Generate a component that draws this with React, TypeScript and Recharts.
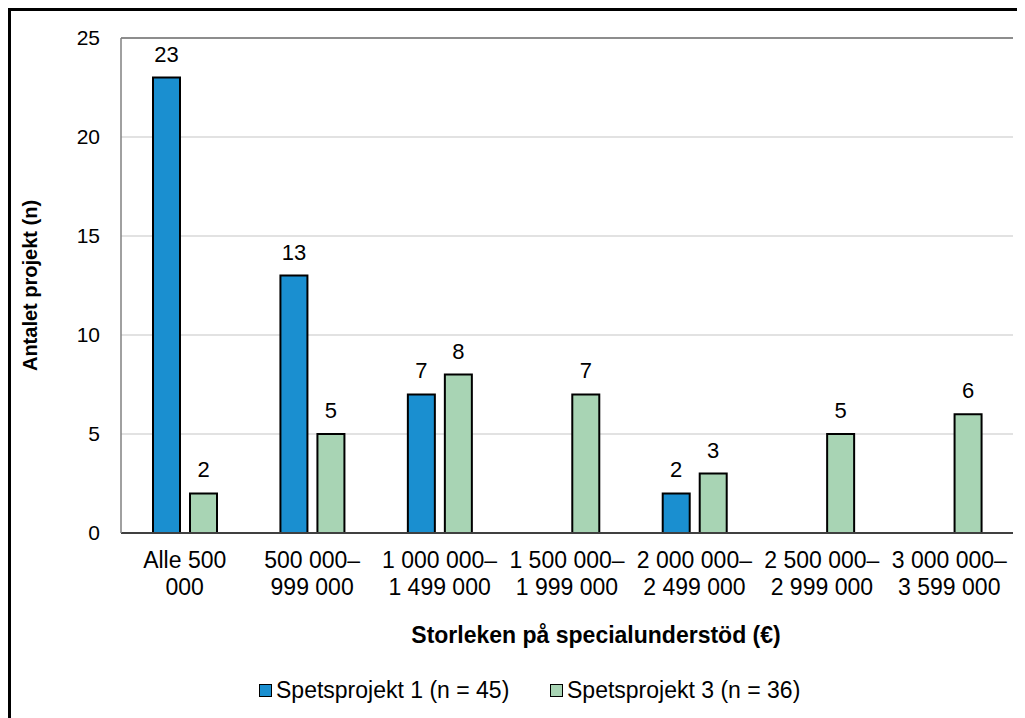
import React from "react";
import {
  BarChart,
  Bar,
  XAxis,
  YAxis,
  CartesianGrid,
  LabelList,
  Legend,
  ReferenceLine,
} from "recharts";

const categories = [
  ["Alle 500", "000"],
  ["500 000–", "999 000"],
  ["1 000 000–", "1 499 000"],
  ["1 500 000–", "1 999 000"],
  ["2 000 000–", "2 499 000"],
  ["2 500 000–", "2 999 000"],
  ["3 000 000–", "3 599 000"],
];
const spets1 = [23, 13, 7, null, 2, null, null];
const spets3 = [2, 5, 8, 7, 3, 5, 6];
const yTicks = [0, 5, 10, 15, 20, 25];

const seriesNames = ["Spetsprojekt 1 (n = 45)", "Spetsprojekt 3 (n = 36)"];
const BLUE = "#1a8fd0";
const GREEN = "#a8d4b4";
const FONT = "'Liberation Sans', Arial, sans-serif";

const data = categories.map((lines, i) => ({
  key: lines.join(" "),
  lines,
  s1: spets1[i],
  s3: spets3[i],
}));

function XTick(props: any) {
  const { x, y, payload } = props;
  const lines = categories[payload.index] || [];
  return (
    <g>
      {lines.map((l, i) => (
        <text
          key={i}
          x={x}
          y={y + 27 + i * 27}
          textAnchor="middle"
          fontSize={23}
          fill="#000"
          fontFamily={FONT}
        >
          {l}
        </text>
      ))}
    </g>
  );
}

function LegendContent() {
  const colors = [BLUE, GREEN];
  return (
    <div
      style={{
        display: "flex",
        alignItems: "center",
        height: 40,
        paddingLeft: 251,
        fontFamily: FONT,
        fontSize: 23,
        color: "#000",
      }}
    >
      {seriesNames.map((n, i) => (
        <div
          key={n}
          style={{ display: "flex", alignItems: "center", width: i === 0 ? 291 : "auto" }}
        >
          <span
            style={{
              display: "inline-block",
              width: 11,
              height: 11,
              background: colors[i],
              border: "1.5px solid #000",
              marginRight: 4,
            }}
          />
          <span>{n}</span>
        </div>
      ))}
    </div>
  );
}

const labelFmt = (v: any) => (v === null || v === undefined ? "" : v);

export default function App() {
  return (
    <div style={{ position: "relative", width: 1017, height: 710 }}>
      <div
        style={{
          position: "absolute",
          left: 0,
          top: 0,
          width: 1017,
          height: 710,
          borderTop: "3px solid #000",
          borderLeft: "3px solid #000",
          boxSizing: "border-box",
          pointerEvents: "none",
        }}
      />
      <BarChart
        width={1017}
        height={710}
        data={data}
        margin={{ top: 30, right: 12, bottom: 8, left: 50 }}
        barSize={27}
        barGap={10}
        style={{ position: "absolute", left: 0, top: 0 }}
      >
        <CartesianGrid horizontal vertical={false} stroke="#d9d9d9" strokeWidth={1.5} />
        <XAxis
          dataKey="key"
          interval={0}
          tickLine={false}
          axisLine={{ stroke: "#404040", strokeWidth: 2 }}
          height={137}
          tick={<XTick />}
          label={{
            content: () => (
              <text
                x={588}
                y={635}
                textAnchor="middle"
                fontSize={23}
                fontWeight="bold"
                fontFamily={FONT}
                fill="#000"
              >
                Storleken på specialunderstöd (€)
              </text>
            ),
          }}
        />
        <YAxis
          domain={[0, 25]}
          ticks={yTicks}
          width={63}
          tickLine={false}
          tickMargin={15}
          axisLine={{ stroke: "#808080", strokeWidth: 1.5 }}
          tick={{ fontSize: 21, fill: "#000", fontFamily: FONT }}
          label={{
            content: (p: any) => {
              const vb = p.viewBox || { y: 30, height: 495 };
              const cy = vb.y + vb.height / 2;
              return (
                <text
                  x={22}
                  y={cy}
                  transform={`rotate(-90, 22, ${cy})`}
                  textAnchor="middle"
                  dominantBaseline="central"
                  fontSize={20}
                  fontWeight="bold"
                  fontFamily={FONT}
                  fill="#000"
                >
                  Antalet projekt (n)
                </text>
              );
            },
          }}
        />
        <YAxis
          yAxisId="r"
          orientation="right"
          domain={[0, 25]}
          width={0}
          tick={false}
          tickLine={false}
          axisLine={{ stroke: "#000", strokeWidth: 2 }}
        />
        <ReferenceLine y={25} stroke="#707070" strokeWidth={1.5} />
        <Legend verticalAlign="bottom" wrapperStyle={{ left: 0, width: 1017 }} content={<LegendContent />} />
        <Bar dataKey="s1" name={seriesNames[0]} fill={BLUE} stroke="#000" strokeWidth={2} isAnimationActive={false}>
          <LabelList dataKey="s1" position="top" offset={16} formatter={labelFmt} fontSize={22} fill="#000" fontFamily={FONT} />
        </Bar>
        <Bar dataKey="s3" name={seriesNames[1]} fill={GREEN} stroke="#000" strokeWidth={2} isAnimationActive={false}>
          <LabelList dataKey="s3" position="top" offset={16} formatter={labelFmt} fontSize={22} fill="#000" fontFamily={FONT} />
        </Bar>
      </BarChart>
    </div>
  );
}
